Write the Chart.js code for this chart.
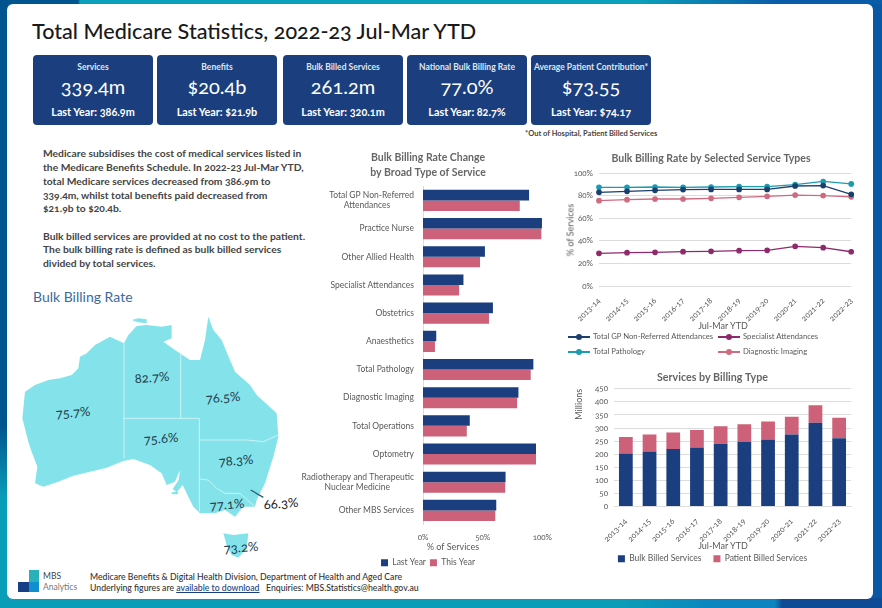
<!DOCTYPE html>
<html>
<head>
<meta charset="utf-8">
<script src="https://cdn.jsdelivr.net/npm/chart.js@4"></script>
<style>
html, body { margin: 0; padding: 0; }
body { width: 882px; height: 608px; position: relative; overflow: hidden; background: #0a57a4; font-family: Lato, sans-serif; color: #333; font-variant-numeric: oldstyle-nums; }
.abs { position: absolute; white-space: nowrap; }
#frameLeft { position: absolute; left: 0; top: 0; width: 8px; height: 608px; background: linear-gradient(180deg, #00558f 0%, #00558f 70%, #0a9db8 82%, #0a9db8 100%); }
#frameTop { position: absolute; left: 0; top: 0; width: 882px; height: 4px; background: linear-gradient(90deg, #00558f 0, #00558f 78px, #0a9fba 80px, #0a9fba 640px, #0a5ba8 780px); }
#frameBottom { position: absolute; left: 0; top: 598px; width: 882px; height: 10px; background: linear-gradient(90deg, #0a9db8 0, #0a9db8 620px, #0b84c0 720px, #0b84c0 775px, #0f4a94 782px, #0f4a94 100%); }
#card { position: absolute; left: 7px; top: 4px; width: 866px; height: 595px; background: #fff; border-radius: 6px; }
.kpi { position: absolute; top: 55px; width: 120px; height: 70px; background: #1b3f7e; border-radius: 4px; color: #fff; text-align: center; }
.kpi div { position: absolute; left: 0; right: 0; white-space: nowrap; }
.kpi .h { top: 7px; font-size: 8.5px; font-weight: 700; color: #dfe6f2; }
.kpi .v { top: 19px; font-size: 20px; font-weight: 400; }
.kpi .l { top: 49.5px; font-size: 10.8px; font-weight: 700; }
.bodyText { left: 43px; font-size: 10.3px; font-weight: 700; color: #444; line-height: 14px; }
canvas { position: absolute; }
.axisNote { position: absolute; font-size: 9px; color: #595959; white-space: nowrap; transform: translateX(-50%); }
.axisNoteY { position: absolute; font-size: 9px; color: #595959; white-space: nowrap; transform: translate(-50%, -50%) rotate(-90deg); }
.stateLabel { position: absolute; font-size: 13px; color: #1f3d4e; transform: translate(-50%, -50%) rotate(-4deg); white-space: nowrap; }
.lg { position: absolute; font-size: 7.7px; color: #595959; white-space: nowrap; }
.lg i { display: inline-block; position: relative; width: 22px; height: 1.5px; vertical-align: middle; margin-right: 3px; }
.lg i b { position: absolute; left: 8px; top: -2.2px; width: 6px; height: 6px; border-radius: 50%; background: inherit; }
</style>
</head>
<body>
<div id="frameLeft"></div>
<div id="frameTop"></div>
<div id="frameBottom"></div>
<div id="card"></div>

<div class="abs" style="left:32px;top:18px;font-size:21.6px;font-weight:500;color:#1a1a1a;">Total Medicare Statistics, 2022-23 Jul-Mar YTD</div>
<div id="kpis"></div>
<div class="abs" style="left:525px;top:129px;font-size:7.5px;font-weight:700;color:#444;">*Out of Hospital, Patient Billed Services</div>

<div id="intro"></div>

<div class="abs" style="left:33px;top:288px;font-size:14px;color:#3b6a9e;">Bulk Billing Rate</div>

<svg class="abs" style="left:0;top:285px;" width="320" height="323" viewBox="0 0 960 969">
  <polygon fill="#84e3ea" points="372,175 385,150 410,123 440,120 485,125 515,120 515,160 490,170 525,195 570,225 600,225 615,165 625,95 640,135 665,165 690,225 705,260 750,300 770,330 830,385 835,455 820,515 795,595 770,645 765,665 730,665 705,695 675,675 645,685 600,685 580,665 565,635 548,600 530,622 518,612 536,585 540,555 525,590 500,600 485,565 450,540 400,522 370,528 320,548 270,560 220,572 175,590 130,605 105,595 112,545 95,500 85,470 67,400 70,370 75,320 105,300 145,285 180,280 215,270 235,250 240,215 260,205 285,180 330,155"/>
  <polygon fill="#84e3ea" points="395,105 415,100 440,103 440,115 415,112"/>
  <polygon fill="#84e3ea" points="515,622 535,620 533,628 516,628"/>
  <polygon fill="#84e3ea" points="670,745 700,750 745,745 740,790 715,818 695,810 680,780"/>
  <polyline fill="none" stroke="#c9f3f6" stroke-width="3" points="372,175 372,520"/>
  <polyline fill="none" stroke="#c9f3f6" stroke-width="3" points="542,205 542,400"/>
  <polyline fill="none" stroke="#c9f3f6" stroke-width="3" points="372,400 598,400 598,680"/>
  <polyline fill="none" stroke="#c9f3f6" stroke-width="3" points="598,465 740,465 790,470 835,450"/>
  <polyline fill="none" stroke="#c9f3f6" stroke-width="3" points="600,582 625,585 650,610 675,625 720,625 765,665"/>
  <line x1="752" y1="615" x2="790" y2="637" stroke="#2a5a78" stroke-width="4"/>
</svg>
<div id="stateLabels"></div>

<!-- logo -->
<div class="abs" style="left:29px;top:570px;width:10px;height:12px;background:#2ab0b8;"></div>
<div class="abs" style="left:18px;top:582px;width:11px;height:10px;background:#173f86;"></div>
<div class="abs" style="left:29px;top:582px;width:10px;height:10px;background:#0f8ed0;"></div>
<div class="abs" style="left:43px;top:571px;font-size:8.5px;color:#444;">MBS</div>
<div class="abs" style="left:43px;top:582px;font-size:8.5px;color:#777;">Analytics</div>
<div class="abs" style="left:90px;top:571px;font-size:8.7px;color:#333;font-weight:500;">Medicare Benefits &amp; Digital Health Division, Department of Health and Aged Care</div>
<div class="abs" style="left:90px;top:582px;font-size:8.7px;color:#333;font-weight:500;">Underlying figures are <span style="color:#1b3f7e;text-decoration:underline;">available to download</span></div>
<div class="abs" style="left:266px;top:582px;font-size:8.7px;color:#333;font-weight:500;">Enquiries: MBS.Statistics@health.gov.au</div>

<canvas id="typeChart" style="left:296px;top:150px;width:264px;height:427px;" width="264" height="427"></canvas>
<div class="axisNote" style="left:453px;top:541px;">% of Services</div>

<canvas id="rateChart" style="left:570px;top:150px;width:290px;height:181px;" width="290" height="181"></canvas>
<div class="axisNoteY" style="left:570px;top:230px;">% of Services</div>
<div class="axisNote" style="left:723px;top:320px;">Jul-Mar YTD</div>
<div id="rateLegend"></div>

<canvas id="servicesChart" style="left:574px;top:369px;width:286px;height:204px;" width="286" height="204"></canvas>
<div class="axisNote" style="left:723px;top:540px;">Jul-Mar YTD</div>

<script>
const kpiHeads = ['Services', 'Benefits', 'Bulk Billed Services', 'National Bulk Billing Rate', 'Average Patient Contribution*'];
const kpiValues = ['339.4m', '$20.4b', '261.2m', '77.0%', '$73.55'];
const kpiLast = ['Last Year: 386.9m', 'Last Year: $21.9b', 'Last Year: 320.1m', 'Last Year: 82.7%', 'Last Year: $74.17'];

const introLines = [
    'Medicare subsidises the cost of medical services listed in',
    'the Medicare Benefits Schedule. In 2022-23 Jul-Mar YTD,',
    'total Medicare services decreased from 386.9m to',
    '339.4m, whilst total benefits paid decreased from',
    '$21.9b to $20.4b.',
    '',
    'Bulk billed services are provided at no cost to the patient.',
    'The bulk billing rate is defined as bulk billed services',
    'divided by total services.'
];

const stateRates = ['82.7%', '75.7%', '76.5%', '75.6%', '78.3%', '77.1%', '66.3%', '73.2%'];

// Графік: тип послуг
const serviceTypes = [
    ['Total GP Non-Referred', 'Attendances'],
    'Practice Nurse',
    'Other Allied Health',
    'Specialist Attendances',
    'Obstetrics',
    'Anaesthetics',
    'Total Pathology',
    'Diagnostic Imaging',
    'Total Operations',
    'Optometry',
    ['Radiotherapy and Therapeutic', 'Nuclear Medicine'],
    'Other MBS Services'
];
const lastYearRates = [88.9, 99.7, 51.9, 33.9, 58.6, 11.1, 92.5, 80.0, 39.2, 94.7, 69.2, 61.4];
const thisYearRates = [81.1, 99.2, 47.8, 30.3, 55.3, 10.0, 90.3, 78.9, 36.7, 94.7, 68.9, 60.6];
const shareTicks = [0, 50, 100];

// Роки
const years = ['2013-14', '2014-15', '2015-16', '2016-17', '2017-18', '2018-19', '2019-20', '2020-21', '2021-22', '2022-23'];
const gpRates = [82.9, 83.8, 84.7, 85.3, 85.5, 85.5, 85.5, 88.5, 88.9, 81.1];
const specialistRates = [28.9, 29.5, 29.8, 30.4, 30.7, 31.3, 31.6, 35.1, 33.9, 30.3];
const pathologyRates = [87.3, 87.3, 87.6, 87.3, 87.6, 87.9, 87.9, 89.7, 92.5, 90.3];
const imagingRates = [75.5, 76.4, 77.0, 77.0, 77.6, 78.5, 79.4, 80.5, 80.0, 78.9];

const bulkBilled = [203, 210, 220, 226, 240, 247, 256, 275, 320.1, 261.2];
const patientBilled = [63, 65, 63, 67, 67, 68, 69, 68, 66.8, 78.2];

const NAVY = '#1b3f7e';
const PINK = '#cc6179';
const TEXT = '#595959';
const TITLE = '#666666';
const GRID = '#dcdcdc';

Chart.defaults.font.family = 'Lato, sans-serif';
Chart.defaults.color = TEXT;
Chart.defaults.animation = false;
Chart.defaults.responsive = false;

// KPI
const kpiBox = document.getElementById('kpis');
const kpiLeft = [33, 157, 283, 407, 531];
kpiHeads.forEach((h, i) => {
    const el = document.createElement('div');
    el.className = 'kpi';
    el.style.left = kpiLeft[i] + 'px';
    el.innerHTML = `<div class="h">${h}</div><div class="v">${kpiValues[i]}</div><div class="l">${kpiLast[i]}</div>`;
    kpiBox.appendChild(el);
});

// Текст
const intro = document.getElementById('intro');
const introTop = [146, 160, 174, 188, 201, 0, 229, 242, 256];
introLines.forEach((t, i) => {
    if (!t) return;
    const el = document.createElement('div');
    el.className = 'abs bodyText';
    el.style.top = introTop[i] + 'px';
    el.textContent = t;
    intro.appendChild(el);
});

// Підписи на карті
const stateSpots = [[152, 377], [73, 412], [223, 397], [161, 438], [236, 460], [227, 504], [281, 503], [241, 547]];
stateRates.forEach((t, i) => {
    const el = document.createElement('div');
    el.className = 'stateLabel';
    el.style.left = stateSpots[i][0] + 'px';
    el.style.top = stateSpots[i][1] + 'px';
    if (i === 6) el.style.color = '#222';
    el.textContent = t;
    document.getElementById('stateLabels').appendChild(el);
});

// Графік типів послуг
new Chart(document.getElementById('typeChart'), {
    type: 'bar',
    data: {
        labels: serviceTypes,
        datasets: [
            { label: 'Last Year', data: lastYearRates, backgroundColor: NAVY, categoryPercentage: 0.75, barPercentage: 1 },
            { label: 'This Year', data: thisYearRates, backgroundColor: PINK, categoryPercentage: 0.75, barPercentage: 1 }
        ]
    },
    options: {
        indexAxis: 'y',
        plugins: {
            title: {
                display: true,
                text: ['Bulk Billing Rate Change', 'by Broad Type of Service'],
                color: TITLE,
                font: { size: 10.5, weight: 'bold', lineHeight: 1.35 },
                padding: { top: 1, bottom: 7 }
            },
            legend: {
                position: 'bottom',
                labels: { boxWidth: 7, boxHeight: 7, font: { size: 8.5 }, padding: 4 }
            },
            tooltip: { enabled: false }
        },
        scales: {
            x: {
                min: 0,
                // запас справа, щоб заголовок і легенда стояли по центру
                max: 114.2,
                afterBuildTicks: s => { s.ticks = shareTicks.map(value => ({ value })); },
                afterFit: s => { s.height = 30; },
                grid: { display: false, drawTicks: false },
                border: { display: false },
                ticks: { maxRotation: 0, padding: 8, font: { size: 8 }, callback: v => v + '%' }
            },
            y: {
                afterFit: s => { s.width = 127; },
                grid: { display: false, drawTicks: false },
                border: { color: GRID },
                ticks: {
                    padding: 9,
                    font: { size: 8.5 },
                    autoSkip: false,
                    callback: function (v) {
                        const name = this.getLabelForValue(v);
                        // другий рядок по центру першого
                        return Array.isArray(name) ? [name[0], name[1] + '\u00a0'.repeat(11)] : name;
                    }
                }
            }
        }
    }
});

// Графік ставок
const rateSeries = [
    { label: 'Total GP Non-Referred Attendances', data: gpRates, color: '#1c3f6e' },
    { label: 'Specialist Attendances', data: specialistRates, color: '#8e2a6b' },
    { label: 'Total Pathology', data: pathologyRates, color: '#1d9bb0' },
    { label: 'Diagnostic Imaging', data: imagingRates, color: '#d06a80' }
];

new Chart(document.getElementById('rateChart'), {
    type: 'line',
    data: {
        labels: years,
        datasets: rateSeries.map(s => ({
            label: s.label,
            data: s.data,
            borderColor: s.color,
            backgroundColor: s.color,
            borderWidth: 1.3,
            pointRadius: 2.2,
            tension: 0
        }))
    },
    options: {
        layout: { padding: { right: 8 } },
        plugins: {
            title: {
                display: true,
                text: 'Bulk Billing Rate by Selected Service Types',
                color: TITLE,
                font: { size: 10.5, weight: 'bold', lineHeight: 1.2 },
                padding: { top: 2, bottom: 8.4 }
            },
            legend: { display: false },
            tooltip: { enabled: false }
        },
        scales: {
            x: {
                afterFit: s => { s.height = 45; },
                grid: { display: false },
                border: { display: false },
                ticks: { minRotation: 45, maxRotation: 45, padding: 2, font: { size: 8 } }
            },
            y: {
                min: 0,
                max: 100,
                afterFit: s => { s.width = 29; },
                grid: { color: GRID, drawTicks: false },
                border: { display: false },
                ticks: { stepSize: 20, padding: 6, font: { size: 8 }, callback: v => v + '%' }
            }
        }
    }
});

// Легенда ліній у дві колонки
const legendSpots = [[568, 331], [718, 331], [568, 346], [718, 346]];
rateSeries.forEach((s, i) => {
    const el = document.createElement('div');
    el.className = 'lg';
    el.style.left = legendSpots[i][0] + 'px';
    el.style.top = legendSpots[i][1] + 'px';
    el.innerHTML = `<i style="background:${s.color}"><b></b></i>${s.label}`;
    document.getElementById('rateLegend').appendChild(el);
});

// Графік послуг
new Chart(document.getElementById('servicesChart'), {
    type: 'bar',
    data: {
        labels: years,
        datasets: [
            { label: 'Bulk Billed Services', data: bulkBilled, backgroundColor: NAVY, categoryPercentage: 0.58, barPercentage: 1 },
            { label: 'Patient Billed Services', data: patientBilled, backgroundColor: PINK, categoryPercentage: 0.58, barPercentage: 1 }
        ]
    },
    options: {
        layout: { padding: { right: 9 } },
        plugins: {
            title: {
                display: true,
                text: 'Services by Billing Type',
                color: TITLE,
                font: { size: 10.7, weight: 'bold', lineHeight: 1.2 },
                padding: { top: 2, bottom: 5 }
            },
            legend: {
                position: 'bottom',
                labels: { boxWidth: 7, boxHeight: 7, font: { size: 8.5 }, padding: 12 }
            },
            tooltip: { enabled: false }
        },
        scales: {
            x: {
                stacked: true,
                afterFit: s => { s.height = 36; },
                grid: { display: false },
                border: { color: GRID },
                ticks: { minRotation: 45, maxRotation: 45, padding: 2, font: { size: 8 } }
            },
            y: {
                stacked: true,
                min: 0,
                max: 450,
                afterFit: s => { s.width = 40; },
                grid: { color: GRID, drawTicks: false },
                border: { display: false },
                ticks: { stepSize: 50, padding: 6, font: { size: 8 }, autoSkip: false },
                title: { display: true, text: 'Millions', align: 'end', font: { size: 9 }, padding: 0 }
            }
        }
    }
});
</script>
</body>
</html>
